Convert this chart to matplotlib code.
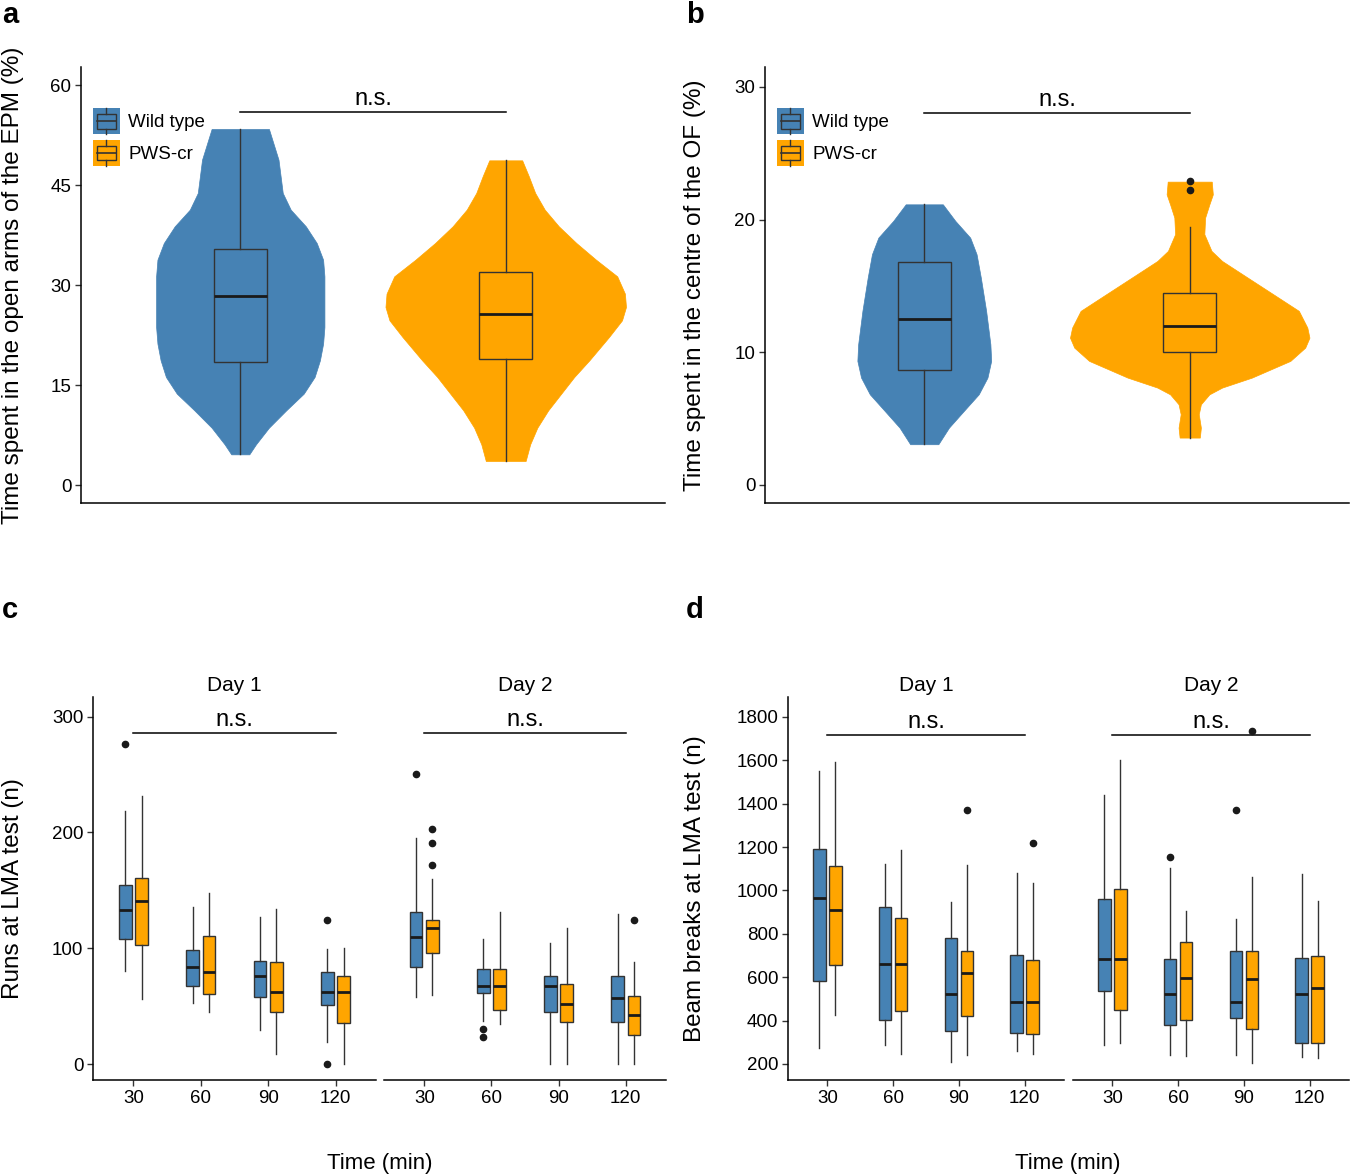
import numpy as np
import matplotlib
matplotlib.use('Agg')
import matplotlib.pyplot as plt
from matplotlib.patches import Rectangle, Patch
from matplotlib.lines import Line2D
from matplotlib.legend_handler import HandlerBase

plt.rcParams['font.family'] = ['Liberation Sans', 'DejaVu Sans']

# ---- data ----
groups = ['Wild type', 'PWS-cr']
blue = '#4682B4'
orange = '#FFA500'
times = ['30', '60', '90', '120']

# panel a, EPM open arms (%): violin outline (value, half width) and box stats
epm_wt_y = [53.4, 48.8, 43.8, 41.3, 38.8, 36.3, 33.8, 31.3, 23.7, 21.2, 18.7,
            16.2, 13.7, 11.2, 8.6, 6.1, 4.6]
epm_wt_w = [0.108, 0.144, 0.160, 0.19, 0.247, 0.288, 0.312, 0.317, 0.317, 0.312,
            0.30, 0.28, 0.239, 0.173, 0.108, 0.059, 0.034]
epm_wt_box = (4.6, 18.4, 28.4, 35.4, 53.4)
epm_pws_y = [48.7, 46.3, 43.8, 41.3, 38.8, 36.3, 33.8, 31.3, 28.7, 26.7, 24.7,
             22.2, 18.7, 16.2, 13.7, 11.2, 8.6, 6.1, 3.6]
epm_pws_w = [0.062, 0.087, 0.111, 0.147, 0.2, 0.266, 0.34, 0.42, 0.449, 0.453,
             0.438, 0.389, 0.315, 0.258, 0.209, 0.16, 0.119, 0.092, 0.075]
epm_pws_box = (3.6, 18.9, 25.7, 31.9, 48.7)

# panel b, OF centre (%)
of_wt_y = [21.15, 19.9, 18.64, 17.39, 15.63, 13.12, 10.6, 9.35, 8.09, 6.83,
           5.58, 4.32, 3.07]
of_wt_w = [0.07, 0.117, 0.173, 0.197, 0.213, 0.233, 0.249, 0.252, 0.238, 0.205,
           0.149, 0.093, 0.053]
of_wt_box = (3.07, 8.67, 12.5, 16.83, 21.15)
of_pws_y = [22.86, 21.9, 21.15, 20.15, 18.9, 17.64, 16.88, 15.63, 14.37, 13.12,
            11.86, 11.1, 10.35, 9.35, 8.09, 7.34, 6.83, 6.08, 5.33, 4.32, 3.57]
of_pws_w = [0.083, 0.087, 0.074, 0.058, 0.055, 0.082, 0.122, 0.218, 0.315, 0.411,
            0.443, 0.451, 0.435, 0.379, 0.234, 0.122, 0.074, 0.042, 0.034, 0.042,
            0.038]
of_pws_box = (3.57, 10.05, 11.98, 14.45, 19.47)
of_pws_out = [22.9, 22.26]

# panel c, runs (low whisker, q1, median, q3, high whisker) per time point
runs_d1_wt = [(80.5, 108.1, 133.4, 154.4, 218.6), (52.9, 67.0, 84.0, 98.4, 135.7),
              (29.3, 58.1, 76.2, 89.4, 127.1), (18.7, 51.2, 62.4, 79.7, 99.5)]
runs_d1_wt_out = [[276.4], [], [], [124.0, 0]]
runs_d1_pws = [(55.8, 103.2, 140.4, 161.1, 231.2), (45.2, 60.1, 79.1, 110.2, 147.8),
               (8.6, 45.2, 62.4, 88.3, 133.7), (0, 35.4, 62.4, 75.6, 100.4)]
runs_d1_pws_out = [[], [], [], []]
runs_d2_wt = [(58.1, 83.7, 109.6, 130.9, 195.0), (37.4, 61.0, 67.3, 81.7, 107.6),
              (0, 45.2, 67.3, 75.6, 104.4), (0, 36.2, 56.7, 75.6, 130.0)]
runs_d2_wt_out = [[250.8], [30.5, 23.6], [], []]
runs_d2_pws = [(59.8, 96.3, 117.3, 124.0, 160.2), (34.5, 46.9, 67.3, 81.7, 131.1),
               (0, 36.2, 51.8, 68.7, 117.3), (0, 24.7, 42.0, 59.0, 87.7)]
runs_d2_pws_out = [[202.8, 190.7, 172.3], [], [], [124.8]]

# panel d, beam breaks
beam_d1_wt = [(272, 582, 964, 1192, 1550), (287, 404, 659, 924, 1120),
              (209, 352, 524, 783, 947), (258, 343, 485, 703, 1082)]
beam_d1_wt_out = [[], [], [], []]
beam_d1_pws = [(425, 656, 912, 1114, 1591), (246, 445, 663, 872, 1188),
               (240, 419, 620, 720, 1116), (246, 336, 485, 679, 1036)]
beam_d1_pws_out = [[], [], [1370], [1217]]
beam_d2_wt = [(287, 536, 682, 959, 1442), (240, 380, 524, 683, 1104),
              (240, 410, 485, 720, 867), (231, 295, 524, 688, 1077)]
beam_d2_wt_out = [[], [1156], [1370], []]
beam_d2_pws = [(298, 450, 682, 1007, 1602), (235, 404, 597, 761, 904),
               (203, 361, 593, 720, 1061), (226, 295, 548, 699, 950)]
beam_d2_pws_out = [[], [], [1734], []]

# ---- helpers ----
W, H = 1350, 1176
fig = plt.figure(figsize=(W / 100, H / 100), dpi=100)
edge = '#333333'


def px_axes(x0, y0, x1, y1):
    return fig.add_axes([x0 / W, 1 - y1 / H, (x1 - x0) / W, (y1 - y0) / H])


def style(ax, show_y=True):
    for s in ['top', 'right']:
        ax.spines[s].set_visible(False)
    for s in ['left', 'bottom']:
        ax.spines[s].set_linewidth(1.1)
    ax.tick_params(axis='both', length=4, width=1, color=edge,
                   labelsize=13.5, pad=3, labelcolor='black')
    if not show_y:
        ax.spines['left'].set_visible(False)
        ax.tick_params(axis='y', left=False, labelleft=False)


def stats(five, outs):
    return dict(whislo=five[0], q1=five[1], med=five[2], q3=five[3],
                whishi=five[4], fliers=outs)


def boxes(ax, st, pos, width, col):
    ax.bxp(st, positions=pos, widths=width, patch_artist=True, showcaps=False,
           manage_ticks=False,
           boxprops=dict(facecolor=col, edgecolor=edge, lw=1.0),
           medianprops=dict(color='#1a1a1a', lw=2.0),
           whiskerprops=dict(color=edge, lw=1.0),
           flierprops=dict(marker='o', markerfacecolor='#1a1a1a',
                           markeredgecolor='#1a1a1a', markersize=4.5),
           zorder=3)


def ns(ax, x0, x1, y):
    ax.plot([x0, x1], [y, y], color='black', lw=1.1, clip_on=False)
    ax.annotate('n.s.', xy=((x0 + x1) / 2, y), xytext=(0, 5),
                textcoords='offset points', ha='center', va='baseline',
                fontsize=17, annotation_clip=False)


class BoxKey(HandlerBase):
    def create_artists(self, legend, orig_handle, xdescent, ydescent,
                       width, height, fontsize, trans):
        x0, y0 = -xdescent, -ydescent
        fc = orig_handle.get_facecolor()
        cx = x0 + width / 2
        arts = [Rectangle((x0, y0), width, height, facecolor=fc,
                          edgecolor='none', transform=trans),
                Rectangle((x0 + 0.15 * width, y0 + 0.22 * height), 0.7 * width,
                          0.56 * height, facecolor='none', edgecolor=edge,
                          lw=1.0, transform=trans),
                Line2D([x0 + 0.15 * width, x0 + 0.85 * width],
                       [y0 + height / 2] * 2, color=edge, lw=1.2, transform=trans),
                Line2D([cx, cx], [y0 + 0.78 * height, y0 + height], color=edge,
                       lw=1.0, transform=trans),
                Line2D([cx, cx], [y0, y0 + 0.22 * height], color=edge,
                       lw=1.0, transform=trans)]
        return arts


def legend(ax):
    handles = [Patch(facecolor=blue), Patch(facecolor=orange)]
    ax.legend(handles, groups, handler_map={Patch: BoxKey()}, loc='upper left',
              bbox_to_anchor=(0.02, 0.905), frameon=False, borderpad=0,
              borderaxespad=0, handlelength=1.45, handleheight=1.75,
              handletextpad=0.45, labelspacing=0.3, fontsize=13.5)


def violin_panel(ax, prof, box5, outs, ylim, yticks):
    for i, ((ys, ws), col) in enumerate(zip(prof, [blue, orange])):
        pos = i + 1
        ys = np.array(ys)
        ws = np.array(ws)
        ax.fill_betweenx(ys, pos - ws, pos + ws, facecolor=col,
                         edgecolor=col, lw=0.5, zorder=1)
        boxes(ax, [stats(box5[i], outs[i])], [pos], 0.2, col)
    ax.set_xlim(0.4, 2.6)
    ax.set_ylim(*ylim)
    ax.set_yticks(yticks)
    style(ax)
    ax.tick_params(axis='x', bottom=False, labelbottom=False)
    legend(ax)


# ---- panel a ----
ax_a = px_axes(81, 67, 665, 503)
violin_panel(ax_a, [(epm_wt_y, epm_wt_w), (epm_pws_y, epm_pws_w)],
             [epm_wt_box, epm_pws_box], [[], []], (-2.7, 62.7), [0, 15, 30, 45, 60])
ns(ax_a, 1, 2, 56.0)

# ---- panel b ----
ax_b = px_axes(765, 67, 1349, 503)
violin_panel(ax_b, [(of_wt_y, of_wt_w), (of_pws_y, of_pws_w)],
             [of_wt_box, of_pws_box], [[], of_pws_out], (-1.36, 31.5), [0, 10, 20, 30])
ns(ax_b, 1, 2, 28.0)


# ---- panels c and d ----
def day_panel(ax, wt, wt_out, pws, pws_out, title, ylim, yticks, show_y, nsy):
    pos = np.arange(1, 5)
    boxes(ax, [stats(s, o) for s, o in zip(wt, wt_out)], pos - 0.122, 0.19, blue)
    boxes(ax, [stats(s, o) for s, o in zip(pws, pws_out)], pos + 0.122, 0.19, orange)
    ax.set_xlim(0.4, 4.6)
    ax.set_ylim(*ylim)
    ax.set_xticks(pos)
    ax.set_xticklabels(times)
    ax.set_yticks(yticks)
    style(ax, show_y)
    ax.set_title(title, fontsize=15, pad=4)
    ns(ax, 1, 4, nsy)


ax_c1 = px_axes(93, 697, 376, 1080)
ax_c2 = px_axes(384, 697, 666, 1080)
day_panel(ax_c1, runs_d1_wt, runs_d1_wt_out, runs_d1_pws, runs_d1_pws_out,
          'Day 1', (-13.8, 317), [0, 100, 200, 300], True, 286)
day_panel(ax_c2, runs_d2_wt, runs_d2_wt_out, runs_d2_pws, runs_d2_pws_out,
          'Day 2', (-13.8, 317), [0, 100, 200, 300], False, 286)

ax_d1 = px_axes(788, 697, 1064, 1080)
ax_d2 = px_axes(1073, 697, 1349, 1080)
beam_ticks = list(range(200, 1801, 200))
day_panel(ax_d1, beam_d1_wt, beam_d1_wt_out, beam_d1_pws, beam_d1_pws_out,
          'Day 1', (126, 1892), beam_ticks, True, 1715)
day_panel(ax_d2, beam_d2_wt, beam_d2_wt_out, beam_d2_pws, beam_d2_pws_out,
          'Day 2', (126, 1892), beam_ticks, False, 1715)

# ---- labels ----
lab = dict(fontsize=17.5, rotation=90, ha='center', va='center')
fig.text(13 / W, 1 - 285 / H, 'Time spent in the open arms of the EPM (%)', **lab)
fig.text(695 / W, 1 - 285 / H, 'Time spent in the centre of the OF (%)', **lab)
fig.text(13 / W, 1 - 889 / H, 'Runs at LMA test (n)', **lab)
fig.text(695 / W, 1 - 889 / H, 'Beam breaks at LMA test (n)', **lab)
fig.text(380 / W, 1 - 1163 / H, 'Time (min)', fontsize=16, ha='center', va='center')
fig.text(1068 / W, 1 - 1163 / H, 'Time (min)', fontsize=16, ha='center', va='center')

for letter, x, y in [('a', 2, 15), ('b', 686, 15), ('c', 2, 610), ('d', 686, 610)]:
    fig.text(x / W, 1 - y / H, letter, fontsize=21, fontweight='bold',
             ha='left', va='center')

fig.savefig('out.png', dpi=100)
